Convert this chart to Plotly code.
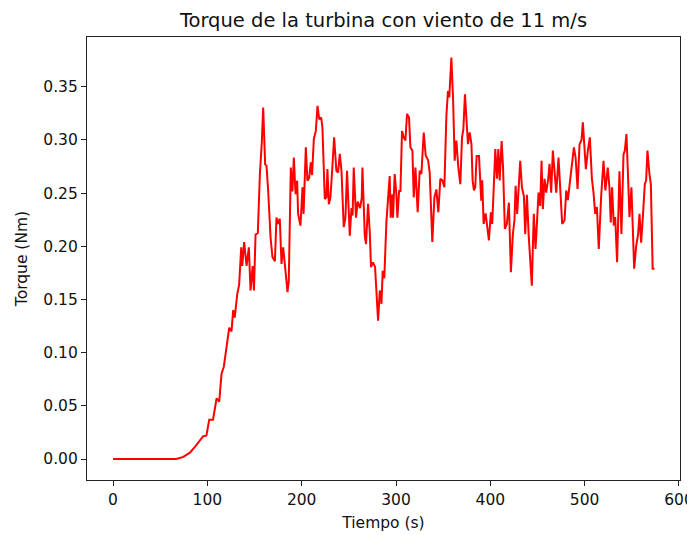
import plotly.graph_objects as go

tiempo = [0, 20, 40, 60, 67, 74.5, 81.5, 86.8, 92, 95.6, 99, 102, 106, 109.8, 112.6, 115, 117.5, 119.7,
          123.2, 125.6, 127.4, 129, 131.7, 133.7, 135.9, 137, 139, 141.6, 144, 145.8, 148, 149.4, 151.1,
          153.5, 155.7, 157.8, 159.2, 161.3, 162.7, 164.5, 167, 169, 171.6, 173.3, 175, 176.8, 178.6,
          180.4, 182.5, 185, 186.3, 188.5, 190.2, 191.7, 193.5, 195.2, 196.2, 198.7, 200.9, 202,
          204.4, 206.1, 207.9, 209.7, 211, 212.9, 215, 216.8, 218.6, 220.7, 222, 224.5, 226.2, 227.3,
          228.8, 230.5, 232.3, 234.4, 236.8, 238.6, 240.4, 242.2, 244.6, 246.4, 248.1, 251, 252.8, 254,
          255.2, 257.6, 259.4, 261.9, 263.7, 264.4, 266.9, 268.2, 270.4, 272.2, 273.5, 275.6, 277.8,
          279.6, 281, 282.8, 284.6, 285.9, 287.6, 289.8, 291.6, 293.3, 294.4, 296.1, 296.8, 298.6,
          300.4, 301.5, 303.3, 304.7, 306.4, 308.2, 310, 311.7, 313.8, 315.3, 317.4, 318.8, 320.6, 323,
          325.1, 326.9, 329.4, 331.5, 334, 335.7, 338.5, 340.7, 342.8, 344.9, 347, 349.2, 351.3, 353.4,
          355.1, 356.5, 358.7, 360.5, 362.2, 364, 366.1, 368.2, 370, 371.4, 373.1, 375, 376.3, 378.1,
          380, 381.2, 382.6, 384, 385.5, 388, 390.4, 391.4, 392.9, 395, 396.4, 398.5, 400.6, 402,
          403.5, 405.3, 407, 408.5, 409.9, 412, 413.5, 415.4, 417.5, 419.7, 421.8, 423.9, 425.6, 426.8,
          428.5, 430.3, 431.7, 433.5, 435.6, 437, 438.8, 440.6, 442.3, 444, 446.1, 447.9, 449.3, 451.1,
          452.9, 454.3, 455.7, 457.5, 459.2, 461.4, 462.8, 464.5, 466.3, 468.1, 469.9, 472.3, 474.1,
          476.2, 478.7, 480.5, 482.2, 484, 485.8, 488.6, 490.4, 492.5, 494.6, 496.7, 498.1, 499.9,
          501.3, 503.4, 505.5, 507.7, 509.4, 511.2, 513, 515, 517.5, 520, 522, 524.5, 526.3, 527.7,
          529.1, 530.9, 532.4, 534.4, 536.9, 539, 541.2, 542.6, 544.3, 546.1, 547.5, 549.6, 551,
          552.5, 554.6, 556.7, 558.2, 559.9, 561.7, 563.8, 565.2, 566.6, 568.7, 570.2, 572.1, 574]

torque = [0, 0, 0, 0, 0, 0.002, 0.006, 0.0115, 0.018, 0.0216, 0.022, 0.037, 0.037, 0.057, 0.054, 0.080,
          0.087, 0.102, 0.1235, 0.120, 0.140, 0.133, 0.155, 0.164, 0.199, 0.1815, 0.204, 0.1815, 0.199,
          0.1585, 0.1815, 0.1585, 0.211, 0.2125, 0.268, 0.299, 0.3305, 0.277, 0.276, 0.252, 0.2085,
          0.19, 0.186, 0.227, 0.221, 0.226, 0.1835, 0.199, 0.181, 0.157, 0.167, 0.274, 0.2515, 0.2835,
          0.249, 0.2617, 0.2305, 0.2195, 0.2555, 0.2305, 0.293, 0.2617, 0.264, 0.279, 0.267, 0.301,
          0.3085, 0.332, 0.3195, 0.321, 0.3115, 0.2445, 0.246, 0.2727, 0.2395, 0.246, 0.271, 0.3025,
          0.271, 0.2695, 0.287, 0.271, 0.218, 0.227, 0.271, 0.210, 0.236, 0.229, 0.274, 0.227, 0.242,
          0.236, 0.2455, 0.274, 0.210, 0.202, 0.24, 0.213, 0.1805, 0.185, 0.1805, 0.143, 0.130, 0.1585,
          0.146, 0.177, 0.170, 0.2225, 0.251, 0.266, 0.227, 0.249, 0.227, 0.268, 0.249, 0.227, 0.252,
          0.252, 0.3085, 0.3025, 0.2995, 0.3245, 0.321, 0.293, 0.290, 0.246, 0.274, 0.232, 0.271,
          0.268, 0.307, 0.2855, 0.281, 0.2695, 0.204, 0.246, 0.2535, 0.232, 0.2634, 0.262, 0.2555,
          0.3225, 0.346, 0.340, 0.3775, 0.339, 0.2805, 0.2995, 0.274, 0.2585, 0.3025, 0.310, 0.343,
          0.3085, 0.296, 0.307, 0.296, 0.262, 0.2525, 0.2555, 0.285, 0.285, 0.243, 0.262, 0.221,
          0.231, 0.221, 0.2055, 0.232, 0.221, 0.2525, 0.2915, 0.2635, 0.2915, 0.262, 0.299, 0.274,
          0.2165, 0.221, 0.241, 0.1757, 0.2115, 0.2245, 0.257, 0.2305, 0.2585, 0.2805, 0.2555, 0.247,
          0.2115, 0.2485, 0.2115, 0.1835, 0.163, 0.2305, 0.1975, 0.2195, 0.2505, 0.238, 0.2805,
          0.235, 0.2635, 0.2505, 0.2635, 0.2775, 0.2505, 0.29, 0.2665, 0.2505, 0.2835, 0.2555, 0.221,
          0.2245, 0.2525, 0.2435, 0.2585, 0.271, 0.293, 0.2835, 0.254, 0.296, 0.300, 0.3165, 0.293,
          0.2725, 0.29, 0.3025, 0.2635, 0.2505, 0.2305, 0.237, 0.1975, 0.247, 0.2805, 0.2525, 0.274,
          0.2555, 0.2225, 0.2555, 0.2195, 0.2275, 0.185, 0.2705, 0.2115, 0.2865, 0.29, 0.3055,
          0.2635, 0.2275, 0.2555, 0.2085, 0.179, 0.2, 0.2115, 0.2305, 0.2035, 0.2275, 0.2585, 0.262,
          0.29, 0.268, 0.2585, 0.179, 0.179]

x_ticks = [0, 100, 200, 300, 400, 500, 600]
y_ticks = [0.00, 0.05, 0.10, 0.15, 0.20, 0.25, 0.30, 0.35]

FONT = "DejaVu Sans"
# page body has an 8px default margin; size the figure so the axes land where the reference has them
W, H = 687, 527
ML, MR, MT, MB = 79, 15, 29, 55

fig = go.Figure()
fig.add_trace(go.Scatter(x=tiempo, y=torque, mode="lines",
                         line=dict(color="#ff0000", width=2), showlegend=False))

axis_common = dict(showline=True, linecolor="#222222", linewidth=1.2, mirror=True,
                   ticks="outside", ticklen=5, tickwidth=1.2, tickcolor="#222222",
                   showgrid=False, zeroline=False, automargin=False,
                   tickfont=dict(family=FONT, size=15.5, color="#111111"))

fig.update_layout(
    width=W, height=H,
    paper_bgcolor="white", plot_bgcolor="white",
    margin=dict(l=ML, r=MR, t=MT, b=MB),
    title=dict(text="Torque de la turbina con viento de 11 m/s",
               x=(ML + (W - MR)) / 2 / W, xanchor="center",
               y=1 - 12 / H, yanchor="middle",
               font=dict(family=FONT, size=19.5, color="#111111")),
    xaxis=dict(range=[-27.6, 601.1], tickvals=x_ticks, ticktext=[str(v) for v in x_ticks],
               title=dict(text="Tiempo (s)", font=dict(family=FONT, size=15.5, color="#111111"),
                          standoff=9),
               **axis_common),
    yaxis=dict(range=[-0.0197, 0.3968], tickvals=y_ticks, ticktext=[f"{v:.2f}" for v in y_ticks],
               title=dict(text="Torque (Nm)", font=dict(family=FONT, size=15.5, color="#111111"),
                          standoff=11),
               **axis_common),
)

fig.write_html("out.html")
